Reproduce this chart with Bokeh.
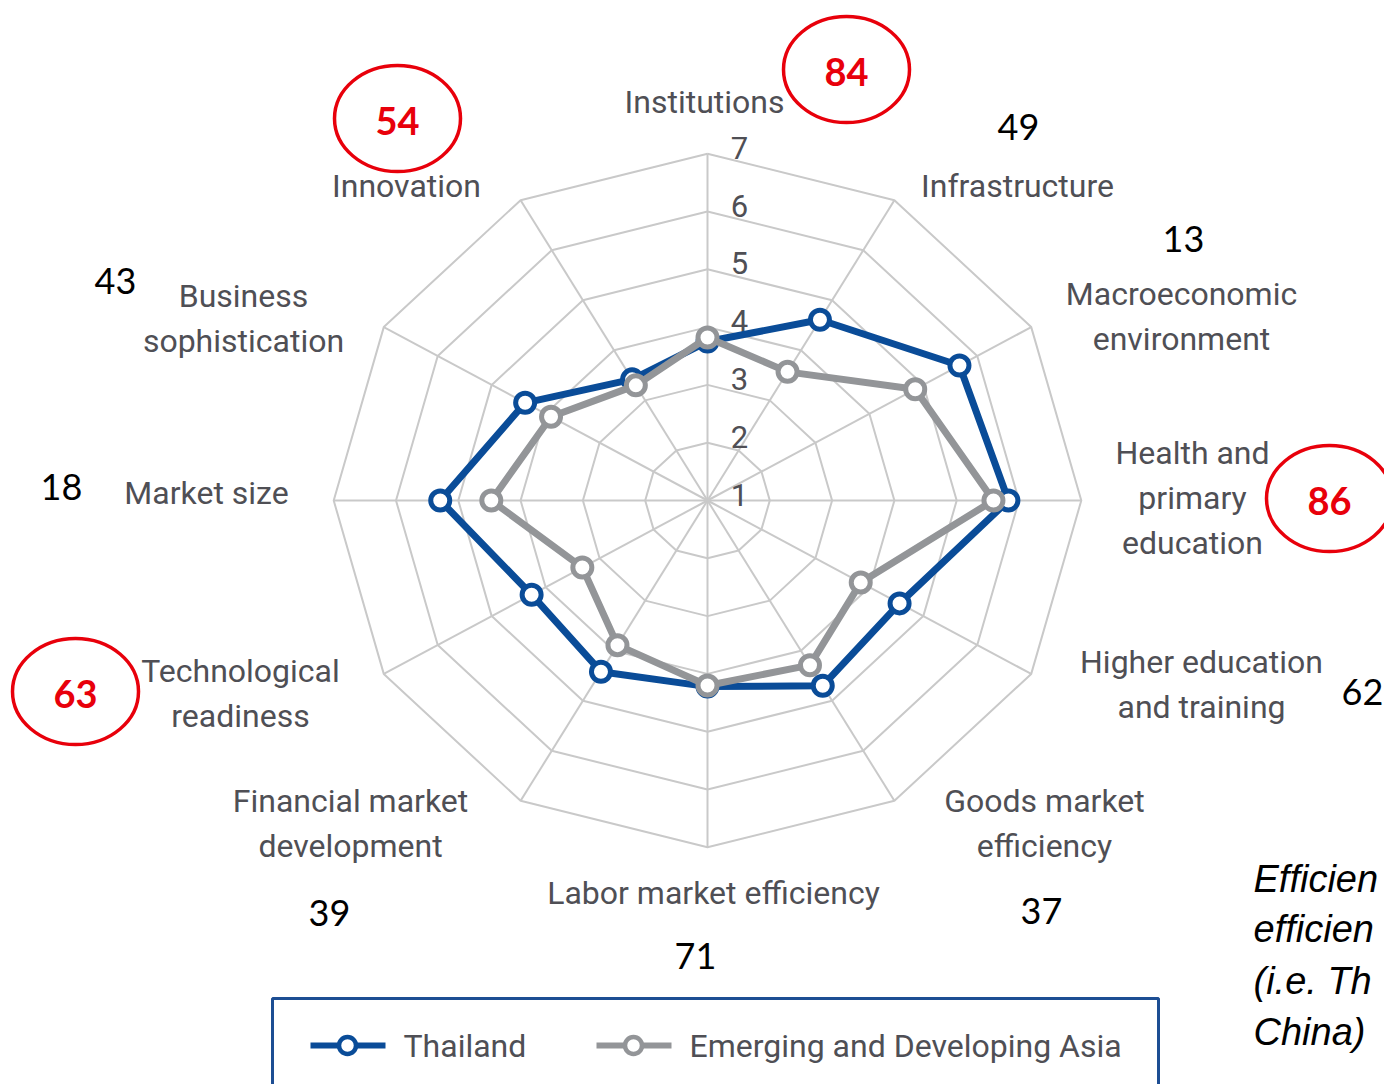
import math
from bokeh.plotting import figure
from bokeh.models import Range1d
from bokeh.core.properties import value
from bokeh.embed import file_html
from bokeh.resources import INLINE

# ---------------- data ----------------
categories = ["Institutions", "Infrastructure", "Macroeconomic\nenvironment",
              "Health and\nprimary\neducation", "Higher education\nand training",
              "Goods market\nefficiency", "Labor market efficiency",
              "Financial market\ndevelopment", "Technological\nreadiness",
              "Market size", "Business\nsophistication", "Innovation"]
thailand = [3.75, 4.61, 5.67, 5.83, 4.56, 4.70, 4.22, 4.42, 4.26, 5.29, 4.38, 3.42]
asia = [3.82, 3.57, 4.85, 5.59, 3.84, 4.29, 4.20, 3.89, 3.32, 4.47, 3.90, 3.30]
ranks = ["84", "49", "13", "86", "62", "37", "71", "39", "63", "18", "43", "54"]
highlighted = [True, False, False, True, False, False, False, False, True, False, False, True]
scale_ticks = [1, 2, 3, 4, 5, 6, 7]
series_names = ["Thailand", "Emerging and Developing Asia"]
note_lines = ["Efficien", "efficien", "(i.e. Th", "China)"]

# ---------------- layout ----------------
W, H = 1384, 1084
CX, CY = 707.0, 500.0
SX, SY = 62.3, 57.8
VMIN, VMAX = 1, 7
N = len(categories)
BLUE = "#0a4c98"
GREY = "#939598"
GRID = "#c9c9c9"
TXT = "#4f4f55"
RED = "#e8000b"
LABF = "Roboto"
NUMF = "Lato"

def ang(i):
    return math.radians(90 - 360.0 / N * i)

def pos(i, v):
    r = v - VMIN
    return CX + r * SX * math.cos(ang(i)), CY - r * SY * math.sin(ang(i))

p = figure(width=W, height=H, x_range=Range1d(0, W), y_range=Range1d(H, 0),
           output_backend="svg", toolbar_location=None, min_border=0)
p.axis.visible = False
p.grid.visible = False
p.outline_line_color = None
p.background_fill_color = "white"

# grid rings
ring_xs, ring_ys = [], []
for v in scale_ticks[1:]:
    pts = [pos(i, v) for i in range(N)] + [pos(0, v)]
    ring_xs.append([q[0] for q in pts])
    ring_ys.append([q[1] for q in pts])
p.multi_line(ring_xs, ring_ys, line_color=GRID, line_width=2)
# spokes
sp_xs, sp_ys = [], []
for i in range(N):
    x1, y1 = pos(i, VMAX)
    sp_xs.append([CX, x1])
    sp_ys.append([CY, y1])
p.multi_line(sp_xs, sp_ys, line_color=GRID, line_width=2)

# scale labels
p.text(x=[CX + 32] * len(scale_ticks), y=[pos(0, v)[1] - 6 for v in scale_ticks],
       text=[str(v) for v in scale_ticks], text_align="center", text_baseline="middle",
       text_font=value(LABF), text_font_size="31px", text_color=TXT)

# series
def draw_series(vals, color):
    pts = [pos(i, v) for i, v in enumerate(vals)]
    xs = [q[0] for q in pts]
    ys = [q[1] for q in pts]
    p.line(xs + [xs[0]], ys + [ys[0]], line_color=color, line_width=7, line_join="round")
    p.scatter(xs, ys, marker="circle", size=19, fill_color="white", line_color=color, line_width=5)

draw_series(thailand, BLUE)
draw_series(asia, GREY)

# category labels (center positions of each line block)
label_pos = [(704, 101), (1017, 185), (1181, 316), (1192, 497), (1201, 684),
             (1044, 823), (713, 892), (350, 823), (240, 693), (206, 492),
             (243, 318), (406, 185)]
LH = 45
lx, ly, lt = [], [], []
for (x, y), c in zip(label_pos, categories):
    lines = c.split("\n")
    n = len(lines)
    for k, t in enumerate(lines):
        lx.append(x)
        ly.append(y + (k - (n - 1) / 2) * LH)
        lt.append(t)
p.text(x=lx, y=ly, text=lt, text_align="center", text_baseline="middle",
       text_font=value(LABF), text_font_size="32px", text_color=TXT)

# rank labels
rank_pos = [(846, 71), (1018, 126), (1183, 238), (1329, 500), (1362, 691),
            (1041, 910), (695, 955), (329, 912), (75, 693), (61, 486),
            (115, 280), (397, 120)]
bx = [q[0] for q, h in zip(rank_pos, highlighted) if not h]
by = [q[1] for q, h in zip(rank_pos, highlighted) if not h]
bt = [r for r, h in zip(ranks, highlighted) if not h]
p.text(x=bx, y=by, text=bt, text_align="center", text_baseline="middle",
       text_font=value(NUMF), text_font_size="36px", text_color="black")
rx = [q[0] for q, h in zip(rank_pos, highlighted) if h]
ry = [q[1] for q, h in zip(rank_pos, highlighted) if h]
rt = [r for r, h in zip(ranks, highlighted) if h]
p.text(x=rx, y=ry, text=rt, text_align="center", text_baseline="middle",
       text_font=value(NUMF), text_font_size="38px", text_font_style="bold", text_color=RED)
p.ellipse(x=rx, y=[y - 2 for y in ry], width=126, height=106, fill_alpha=0,
          line_color=RED, line_width=3.5)

# legend (manual)
p.quad(left=[272], right=[1158], top=[998], bottom=[1110], fill_alpha=0,
       line_color="#1d4e93", line_width=3)
leg_y = 1045
for (x0, col, name) in [(310, BLUE, series_names[0]), (596, GREY, series_names[1])]:
    p.line([x0, x0 + 75], [leg_y, leg_y], line_color=col, line_width=6)
    p.scatter([x0 + 37], [leg_y], marker="circle", size=17, fill_color="white",
              line_color=col, line_width=4.5)
    p.text(x=[x0 + 93], y=[leg_y], text=[name], text_align="left", text_baseline="middle",
           text_font=value(LABF), text_font_size="32px", text_color=TXT)

# side note (the reference shows only the left part of these lines)
p.text(x=[1253] * 4, y=[878, 928, 980, 1031], text=note_lines, text_align="left",
       text_baseline="middle", text_font=value("Liberation Sans"), text_font_size="38px",
       text_font_style="italic", text_color="black")

open("out.html", "w").write(file_html(p, INLINE))
